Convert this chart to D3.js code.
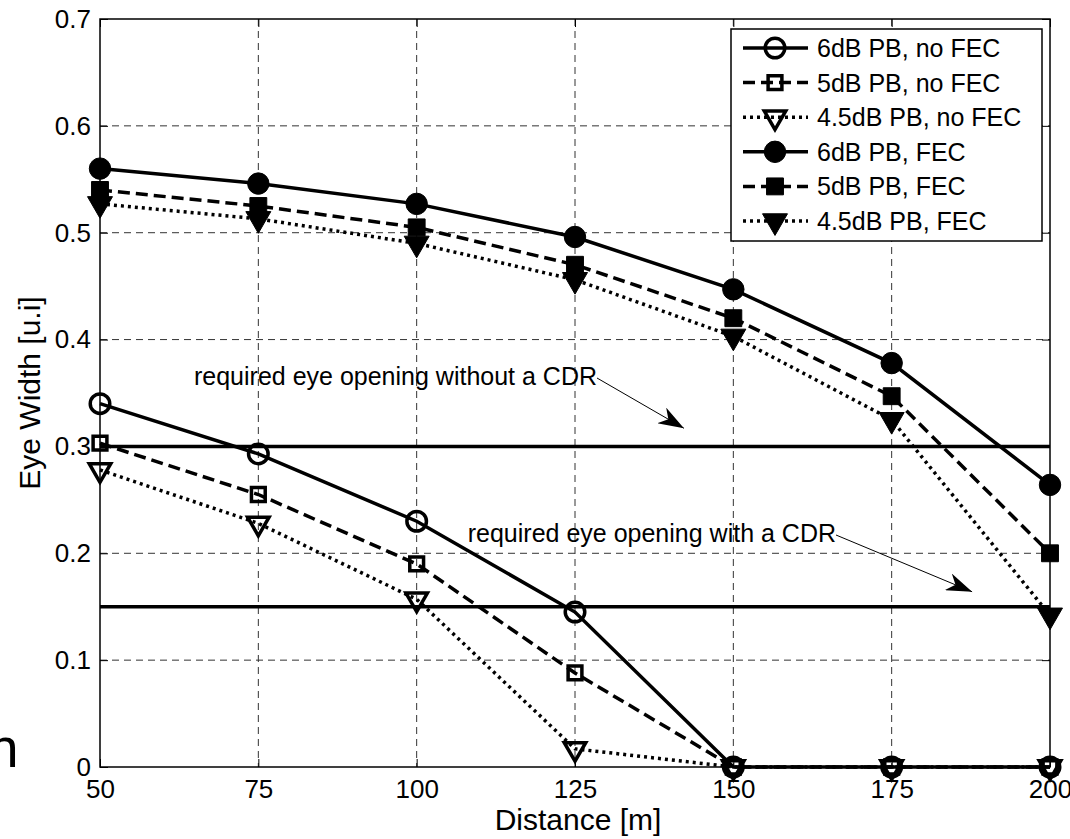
<!DOCTYPE html>
<html>
<head>
<meta charset="utf-8">
<script src="https://cdn.jsdelivr.net/npm/d3@7"></script>
<style>
  body { margin: 0; background: #fff; }
  svg { display: block; font-family: "Liberation Sans", Arial, sans-serif; }
</style>
</head>
<body>
<svg width="1070" height="839"></svg>
<script>
// distances [m]
var distances = [50, 75, 100, 125, 150, 175, 200];

// eye width [u.i] per series
var pb6NoFec  = [0.340, 0.293, 0.230, 0.145, 0, 0, 0];
var pb5NoFec  = [0.303, 0.255, 0.190, 0.088, 0, 0, 0];
var pb45NoFec = [0.278, 0.228, 0.157, 0.017, 0, 0, 0];
var pb6Fec    = [0.560, 0.546, 0.527, 0.496, 0.447, 0.378, 0.264];
var pb5Fec    = [0.540, 0.525, 0.505, 0.470, 0.420, 0.347, 0.200];
var pb45Fec   = [0.527, 0.513, 0.490, 0.456, 0.403, 0.325, 0.142];

var seriesNames = ["6dB PB, no FEC", "5dB PB, no FEC", "4.5dB PB, no FEC",
                   "6dB PB, FEC", "5dB PB, FEC", "4.5dB PB, FEC"];

var xTicks = [50, 75, 100, 125, 150, 175, 200];
var yTicks = [0, 0.1, 0.2, 0.3, 0.4, 0.5, 0.6, 0.7];

// required eye opening thresholds
var thresholds = [0.3, 0.15];
var noteTexts = ["required eye opening without a CDR", "required eye opening with a CDR"];

var series = [
  { name: seriesNames[0], values: pb6NoFec,  dash: null,   shape: "circle",   filled: false },
  { name: seriesNames[1], values: pb5NoFec,  dash: "12,6", shape: "square",   filled: false },
  { name: seriesNames[2], values: pb45NoFec, dash: "3,4",  shape: "triangle", filled: false },
  { name: seriesNames[3], values: pb6Fec,    dash: null,   shape: "circle",   filled: true },
  { name: seriesNames[4], values: pb5Fec,    dash: "12,6", shape: "square",   filled: true },
  { name: seriesNames[5], values: pb45Fec,   dash: "3,4",  shape: "triangle", filled: true }
];

var svg = d3.select("svg");
var pLeft = 100, pRight = 1050, pTop = 19, pBottom = 767;

var x = d3.scaleLinear().domain([50, 200]).range([pLeft, pRight]);
var y = d3.scaleLinear().domain([0, 0.7]).range([pBottom, pTop]);

function markerPath(shape, filled) {
  if (shape === "circle") return d3.symbol(d3.symbolCircle, filled ? 360 : 300)();
  if (shape === "square") return d3.symbol(d3.symbolSquare, filled ? 285 : 190)();
  return d3.symbol(d3.symbolTriangle, filled ? 270 : 200)();
}
function markerTransform(shape, px, py) {
  return "translate(" + px + "," + py + ")" + (shape === "triangle" ? " rotate(180)" : "");
}

// grid
svg.append("g").selectAll("line").data(xTicks.slice(1, -1)).join("line")
  .attr("x1", d => x(d)).attr("x2", d => x(d))
  .attr("y1", pTop).attr("y2", pBottom)
  .attr("stroke", "#333").attr("stroke-width", 1).attr("stroke-dasharray", "7,5");
svg.append("g").selectAll("line").data(yTicks.slice(1, -1)).join("line")
  .attr("x1", pLeft).attr("x2", pRight)
  .attr("y1", d => y(d)).attr("y2", d => y(d))
  .attr("stroke", "#333").attr("stroke-width", 1).attr("stroke-dasharray", "7,5");

// axes box
svg.append("rect").attr("x", pLeft).attr("y", pTop)
  .attr("width", pRight - pLeft).attr("height", pBottom - pTop)
  .attr("fill", "none").attr("stroke", "#000").attr("stroke-width", 1.5);

// axes (inward ticks on all four sides, labels bottom/left)
var xAxis = svg.append("g").attr("transform", "translate(0," + pBottom + ")")
  .call(d3.axisBottom(x).tickValues(xTicks).tickSize(-8).tickFormat(d3.format("d")));
var yAxis = svg.append("g").attr("transform", "translate(" + pLeft + ",0)")
  .call(d3.axisLeft(y).tickValues(yTicks).tickSize(-8).tickPadding(9)
    .tickFormat(d => d === 0 ? "0" : d3.format(".1f")(d)));
var xTop = svg.append("g").attr("transform", "translate(0," + pTop + ")")
  .call(d3.axisTop(x).tickValues(xTicks).tickSize(-8).tickFormat(""));
var yRight = svg.append("g").attr("transform", "translate(" + pRight + ",0)")
  .call(d3.axisRight(y).tickValues(yTicks).tickSize(-8).tickFormat(""));
[xAxis, yAxis, xTop, yRight].forEach(function(a) {
  a.select(".domain").remove();
  a.selectAll("text").attr("font-size", 26).attr("fill", "#000")
    .attr("font-family", "Liberation Sans, Arial, sans-serif");
  a.selectAll("line").attr("stroke", "#000").attr("stroke-width", 1);
});
xAxis.selectAll("text").attr("dy", "0.71em").attr("y", 13);

// threshold lines
svg.append("g").selectAll("line").data(thresholds).join("line")
  .attr("x1", x(50)).attr("x2", x(200))
  .attr("y1", d => y(d)).attr("y2", d => y(d))
  .attr("stroke", "#000").attr("stroke-width", 3.5);

// series lines
var line = d3.line().x((d, i) => x(distances[i])).y(d => y(d));
series.forEach(function(s) {
  svg.append("path").datum(s.values)
    .attr("d", line)
    .attr("fill", "none").attr("stroke", "#000").attr("stroke-width", 3.5)
    .attr("stroke-dasharray", s.dash);
});
series.forEach(function(s) {
  svg.append("g").selectAll("path").data(s.values).join("path")
    .attr("d", markerPath(s.shape, s.filled))
    .attr("transform", (d, i) => markerTransform(s.shape, x(distances[i]), y(d)))
    .attr("fill", s.filled ? "#000" : "none")
    .attr("stroke", "#000").attr("stroke-width", s.filled ? 1 : 3.5);
});

// annotations with arrows
var defs = svg.append("defs");
defs.append("marker").attr("id", "arrow").attr("viewBox", "0 0 20 14")
  .attr("refX", 20).attr("refY", 7).attr("markerWidth", 26).attr("markerHeight", 18)
  .attr("markerUnits", "userSpaceOnUse").attr("orient", "auto")
  .append("path").attr("d", "M0,0 L20,7 L0,14 L6,7 Z").attr("fill", "#000");

var notes = [
  { text: noteTexts[0], tx: 597, ty: 385, ax: x(142.2), ay: y(0.317) },
  { text: noteTexts[1], tx: 836, ty: 542, ax: x(187.7), ay: y(0.164) }
];
notes.forEach(function(n) {
  svg.append("text").attr("x", n.tx).attr("y", n.ty).attr("text-anchor", "end")
    .attr("font-size", 25).text(n.text);
  svg.append("line").attr("x1", n.tx).attr("y1", n.ty - 7).attr("x2", n.ax).attr("y2", n.ay)
    .attr("stroke", "#000").attr("stroke-width", 1).attr("marker-end", "url(#arrow)");
});

// axis titles
svg.append("text").attr("x", (pLeft + pRight) / 2 + 3).attr("y", 830).attr("text-anchor", "middle")
  .attr("font-size", 30).text("Distance [m]");
svg.append("text").attr("transform", "translate(40," + ((pTop + pBottom) / 2) + ") rotate(-90)")
  .attr("text-anchor", "middle").attr("font-size", 30).text("Eye Width [u.i]");

// stray clipped letter at left edge
svg.append("text").attr("x", -12).attr("y", 767).attr("font-size", 55).text("n");

// legend
var lg = svg.append("g").attr("transform", "translate(731,29)");
lg.append("rect").attr("width", 311).attr("height", 212)
  .attr("fill", "#fff").attr("stroke", "#000").attr("stroke-width", 1.5);
series.forEach(function(s, i) {
  var cy = 19 + i * 34.6;
  lg.append("line").attr("x1", 12).attr("x2", 77).attr("y1", cy).attr("y2", cy)
    .attr("stroke", "#000").attr("stroke-width", 3.5).attr("stroke-dasharray", s.dash);
  lg.append("path").attr("d", markerPath(s.shape, s.filled))
    .attr("transform", markerTransform(s.shape, 44, cy))
    .attr("fill", s.filled ? "#000" : "none")
    .attr("stroke", "#000").attr("stroke-width", s.filled ? 1 : 3.5);
  lg.append("text").attr("x", 86).attr("y", cy + 9).attr("font-size", 25).text(s.name);
});
</script>
</body>
</html>
